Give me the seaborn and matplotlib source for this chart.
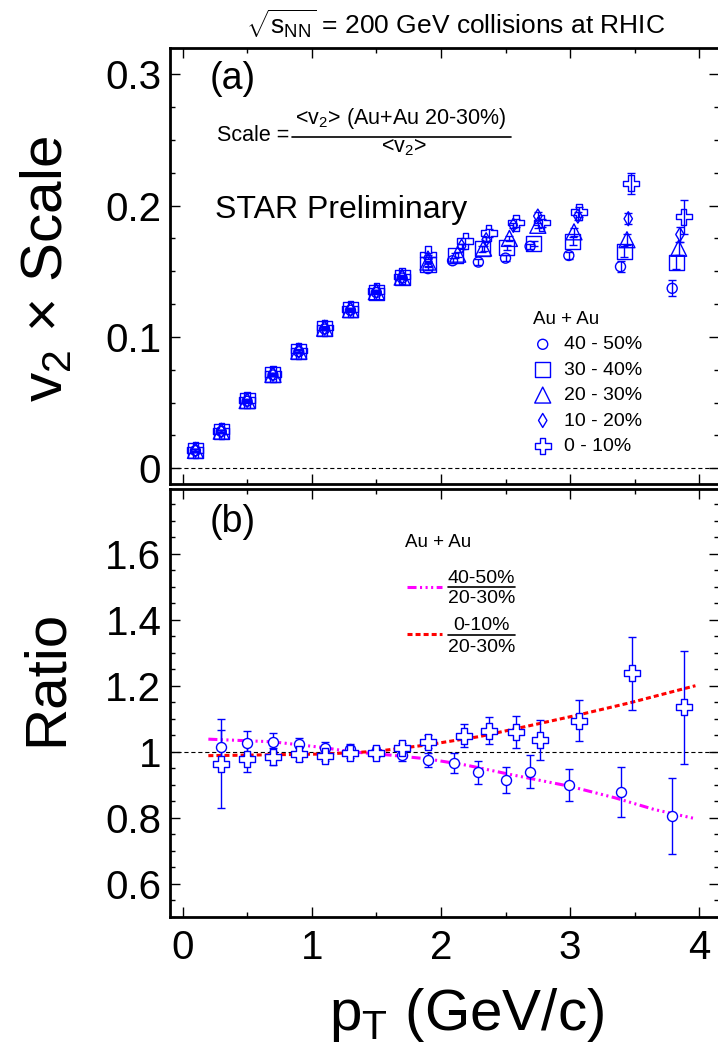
import numpy as np
import pandas as pd
import matplotlib
matplotlib.use("Agg")
import matplotlib.pyplot as plt
import seaborn as sns
from matplotlib.ticker import MultipleLocator, FuncFormatter
from matplotlib.lines import Line2D

# ---------------- data: panel (a)  v2 x Scale ----------------
labels_a = ["40 - 50%", "30 - 40%", "20 - 30%", "10 - 20%", "0 - 10%"]

pt_4050 = [0.1, 0.3, 0.5, 0.7, 0.9, 1.1, 1.3, 1.5, 1.7, 1.9, 2.09, 2.29, 2.50, 2.69, 2.99, 3.39, 3.79]
v2_4050 = [0.0134, 0.0280, 0.0510, 0.0710, 0.0887, 0.1060, 0.1203, 0.1338, 0.1448, 0.1520,
           0.1580, 0.1570, 0.1600, 0.1690, 0.1620, 0.1535, 0.1370]
e_4050 = [0.001, 0.001, 0.001, 0.001, 0.001, 0.001, 0.001, 0.001, 0.001, 0.001,
          0.002, 0.002, 0.002, 0.002, 0.003, 0.004, 0.006]

pt_3040 = [0.1, 0.3, 0.5, 0.7, 0.9, 1.1, 1.3, 1.5, 1.7, 1.9, 2.11, 2.32, 2.51, 2.72, 3.02, 3.42, 3.82]
v2_3040 = [0.0135, 0.0281, 0.0513, 0.0712, 0.0889, 0.1063, 0.1206, 0.1341, 0.1452, 0.1550,
           0.1620, 0.1670, 0.1680, 0.1710, 0.1730, 0.1650, 0.1570]
e_3040 = [0.001, 0.001, 0.001, 0.001, 0.001, 0.001, 0.001, 0.001, 0.001, 0.001,
          0.002, 0.002, 0.002, 0.002, 0.003, 0.004, 0.005]

pt_2030 = [0.1, 0.3, 0.5, 0.7, 0.9, 1.1, 1.3, 1.5, 1.7, 1.9, 2.13, 2.33, 2.53, 2.75, 3.03, 3.44, 3.84]
v2_2030 = [0.0136, 0.0282, 0.0515, 0.0714, 0.0891, 0.1066, 0.1208, 0.1344, 0.1455, 0.1570,
           0.1630, 0.1676, 0.1750, 0.1850, 0.1800, 0.1740, 0.1675]
e_2030 = [0.001, 0.001, 0.001, 0.001, 0.001, 0.001, 0.001, 0.001, 0.001, 0.001,
          0.002, 0.002, 0.002, 0.002, 0.003, 0.004, 0.005]

pt_1020 = [0.1, 0.3, 0.5, 0.7, 0.9, 1.1, 1.3, 1.5, 1.7, 1.9, 2.16, 2.35, 2.56, 2.75, 3.06, 3.45, 3.85]
v2_1020 = [0.0137, 0.0283, 0.0517, 0.0716, 0.0893, 0.1068, 0.1210, 0.1347, 0.1458, 0.1600,
           0.1690, 0.1740, 0.1850, 0.1920, 0.1920, 0.1900, 0.1780]
e_1020 = [0.001, 0.001, 0.001, 0.001, 0.001, 0.001, 0.001, 0.001, 0.001, 0.001,
          0.002, 0.002, 0.002, 0.003, 0.003, 0.004, 0.006]

pt_010 = [0.1, 0.3, 0.5, 0.7, 0.9, 1.1, 1.3, 1.5, 1.7, 1.9, 2.19, 2.37, 2.58, 2.78, 3.07, 3.47, 3.88]
v2_010 = [0.0138, 0.0284, 0.0519, 0.0718, 0.0895, 0.1070, 0.1212, 0.1350, 0.1461, 0.1630,
          0.1730, 0.1790, 0.1870, 0.1870, 0.1950, 0.2170, 0.1915]
e_010 = [0.001, 0.001, 0.001, 0.001, 0.001, 0.001, 0.001, 0.001, 0.001, 0.001,
         0.002, 0.003, 0.003, 0.003, 0.004, 0.008, 0.013]

# ---------------- data: panel (b)  ratios ----------------
pt_r4050 = [0.3, 0.5, 0.7, 0.9, 1.1, 1.3, 1.5, 1.7, 1.9, 2.10, 2.29, 2.50, 2.69, 2.99, 3.39, 3.79]
r_4050 = [1.015, 1.027, 1.030, 1.022, 1.012, 1.008, 1.000, 0.990, 0.975,
          0.966, 0.937, 0.915, 0.940, 0.900, 0.878, 0.806]
er_4050 = [0.050, 0.036, 0.028, 0.020, 0.016, 0.014, 0.014, 0.018, 0.020,
           0.030, 0.035, 0.040, 0.050, 0.048, 0.076, 0.115]

pt_r010 = [0.3, 0.5, 0.7, 0.9, 1.1, 1.3, 1.5, 1.7, 1.9, 2.18, 2.37, 2.58, 2.77, 3.07, 3.48, 3.88]
r_010 = [0.963, 0.978, 0.985, 0.992, 0.987, 0.995, 0.997, 1.010, 1.030,
         1.049, 1.064, 1.059, 1.036, 1.094, 1.238, 1.134]
er_010 = [0.135, 0.040, 0.025, 0.020, 0.016, 0.014, 0.014, 0.015, 0.020,
          0.034, 0.041, 0.049, 0.060, 0.063, 0.111, 0.170]

fit_pt_4050 = [0.2, 0.7, 1.1, 1.3, 1.6, 1.9, 2.2, 2.55, 3.0, 3.35, 3.65, 3.97]
fit_4050 = [1.038, 1.030, 1.012, 1.000, 0.990, 0.978, 0.959, 0.930, 0.895, 0.860, 0.825, 0.797]
fit_pt_010 = [0.2, 1.1, 1.5, 1.9, 2.3, 2.7, 3.07, 3.46, 3.97]
fit_010 = [0.988, 0.993, 1.001, 1.021, 1.046, 1.080, 1.112, 1.148, 1.200]

# ---------------- style ----------------
sns.set_theme(style="ticks")
plt.rcParams.update({
    "font.family": ["Liberation Sans", "DejaVu Sans"],
    "mathtext.fontset": "custom",
    "mathtext.rm": "Liberation Sans",
    "mathtext.it": "Liberation Sans:italic",
    "mathtext.bf": "Liberation Sans:bold",
    "mathtext.default": "regular",
    "lines.scale_dashes": False,
    "axes.linewidth": 2.0,
    "axes.edgecolor": "black",
    "xtick.color": "black",
    "ytick.color": "black",
    "text.color": "black",
})

W, H = 718, 1046
def fx(x):
    return x / W
def fy(y):
    return 1 - y / H

BLUE = "#0000FF"
MAG = "#FF00FF"
RED = "#FF0000"

fig = plt.figure(figsize=(W / 100, H / 100), dpi=100)
xl, xr = 169.6, 718.7
ax1 = fig.add_axes([fx(xl), fy(484), (xr - xl) / W, (484 - 48) / H])
ax2 = fig.add_axes([fx(xl), fy(916.7), (xr - xl) / W, (916.7 - 488.7) / H])

fmt = FuncFormatter(lambda v, p: f"{v:g}")
for ax in (ax1, ax2):
    ax.set_xlim(-0.1, 4.15)
    ax.xaxis.set_major_locator(MultipleLocator(1))
    ax.xaxis.set_minor_locator(MultipleLocator(0.5))
    ax.tick_params(which="both", direction="in", top=True, right=True,
                   labelsize=29, width=1.0, color="black")
    ax.tick_params(which="major", length=7)
    ax.tick_params(which="minor", length=3.5)
    ax.yaxis.set_major_formatter(fmt)
    ax.xaxis.set_major_formatter(fmt)
    for s in ax.spines.values():
        s.set_linewidth(2.0)

ax1.set_ylim(-0.012, 0.32)
ax1.yaxis.set_major_locator(MultipleLocator(0.1))
ax1.yaxis.set_minor_locator(MultipleLocator(0.025))
ax1.tick_params(axis="x", labelbottom=False)
ax1.tick_params(axis="y", pad=6)

ax2.set_ylim(0.5, 1.797)
ax2.yaxis.set_major_locator(MultipleLocator(0.2))
ax2.yaxis.set_minor_locator(MultipleLocator(0.05))
ax2.tick_params(axis="y", pad=6)
ax2.tick_params(axis="x", pad=9)

# ---------------- panel (a) ----------------
ax1.axhline(0, color="black", lw=0.8, dashes=(3, 2), zorder=1)
series_a = [
    (pt_4050, v2_4050, e_4050, "o", 52),
    (pt_3040, v2_3040, e_3040, "s", 117),
    (pt_2030, v2_2030, e_2030, "^", 132),
    (pt_1020, v2_1020, e_1020, "d", 51),
    (pt_010, v2_010, e_010, "P", 133),
]
for (px_, vy, ey, mk, sz), lab in zip(series_a, labels_a):
    ax1.errorbar(px_, vy, yerr=ey, fmt="none", ecolor=BLUE, elinewidth=1.0,
                 capsize=3, capthick=1.0, zorder=2)
    df = pd.DataFrame({"pt": px_, "v": vy})
    sns.scatterplot(data=df, x="pt", y="v", marker=mk, s=sz, facecolor="none",
                    edgecolor=BLUE, linewidth=1.0, label=lab, ax=ax1, zorder=3)
ax1.set_xlabel("")
ax1.set_ylabel("")

leg = ax1.legend(title="Au + Au", loc="upper left",
                 bbox_to_anchor=((533 - xl) / (xr - xl), (484 - 311) / 436),
                 frameon=False, fontsize=14, title_fontsize=13.5, alignment="left",
                 handlelength=1.0, handletextpad=0.6, labelspacing=0.4,
                 borderaxespad=0, borderpad=0)

# ---------------- panel (b) ----------------
ax2.axhline(1, color="black", lw=0.8, dashes=(3, 2), zorder=1)
sns.lineplot(x=fit_pt_4050, y=fit_4050, color=MAG, lw=2.2, errorbar=None, ax=ax2, zorder=2)
ax2.lines[-1].set_dashes([6.5, 2.5, 1.5, 2.5, 1.5, 2.5, 1.5, 2.5])
sns.lineplot(x=fit_pt_010, y=fit_010, color=RED, lw=2.2, errorbar=None, ax=ax2, zorder=2)
ax2.lines[-1].set_dashes([3.6, 2.2])

ax2.errorbar(pt_r4050, r_4050, yerr=er_4050, fmt="none", ecolor=BLUE, elinewidth=1.0,
             capsize=3, capthick=1.0, zorder=3)
ax2.errorbar(pt_r010, r_010, yerr=er_010, fmt="none", ecolor=BLUE, elinewidth=1.0,
             capsize=3, capthick=1.0, zorder=3)
sns.scatterplot(x=pt_r4050, y=r_4050, marker="o", s=52, facecolor="white",
                edgecolor=BLUE, linewidth=1.0, ax=ax2, zorder=4)
sns.scatterplot(x=pt_r010, y=r_010, marker="P", s=133, facecolor="white",
                edgecolor=BLUE, linewidth=1.0, ax=ax2, zorder=4)
ax2.set_xlabel("")
ax2.set_ylabel("")

# ---------------- texts ----------------
fig.text(fx(456), fy(35), r"$\sqrt{s_{\rm NN}}$ = 200 GeV collisions at RHIC",
         ha="center", va="baseline", size=19)
fig.text(fx(62), fy(269), "v$_2$ × Scale", rotation=90, size=42,
         ha="center", va="baseline", rotation_mode="anchor")
fig.text(fx(62), fy(678), "Ratio", rotation=90, size=42,
         ha="center", va="baseline", rotation_mode="anchor")
fig.text(fx(467), fy(1030), "p$_T$ (GeV/c)", size=42, ha="center", va="baseline")

fig.text(fx(210), fy(89), "(a)", size=27, va="baseline")
fig.text(fx(210), fy(532), "(b)", size=27, va="baseline")
fig.text(fx(215), fy(218), "STAR Preliminary", size=23, va="baseline")

# Scale formula
fig.text(fx(289), fy(141), "Scale =", size=15.5, va="baseline", ha="right")
fig.text(fx(401), fy(124), "<v$_2$> (Au+Au 20-30%)", size=15.5, va="baseline", ha="center")
fig.add_artist(Line2D([fx(292), fx(511)], [fy(137), fy(137)], color="black", lw=1.2))
fig.text(fx(404), fy(152), "<v$_2$>", size=15.5, va="baseline", ha="center")

# ratio legend
fig.text(fx(405), fy(547), "Au + Au", size=13.5, va="baseline")
fig.add_artist(Line2D([fx(407), fx(442)], [fy(587), fy(587)], color=MAG, lw=2.2,
                      dashes=[6.5, 2.5, 1.5, 2.5, 1.5, 2.5, 1.5, 2.5]))
fig.text(fx(481.5), fy(583), "40-50%", size=14, va="baseline", ha="center")
fig.add_artist(Line2D([fx(448), fx(515)], [fy(587), fy(587)], color="black", lw=1.2))
fig.text(fx(481.5), fy(603), "20-30%", size=14, va="baseline", ha="center")

fig.add_artist(Line2D([fx(407), fx(442)], [fy(634), fy(634)], color=RED, lw=2.2,
                      dashes=[3.6, 2.2]))
fig.text(fx(481.5), fy(630), "0-10%", size=14, va="baseline", ha="center")
fig.add_artist(Line2D([fx(448), fx(515)], [fy(635), fy(635)], color="black", lw=1.2))
fig.text(fx(481.5), fy(652), "20-30%", size=14, va="baseline", ha="center")

fig.savefig("out.png", dpi=100, facecolor="white")
